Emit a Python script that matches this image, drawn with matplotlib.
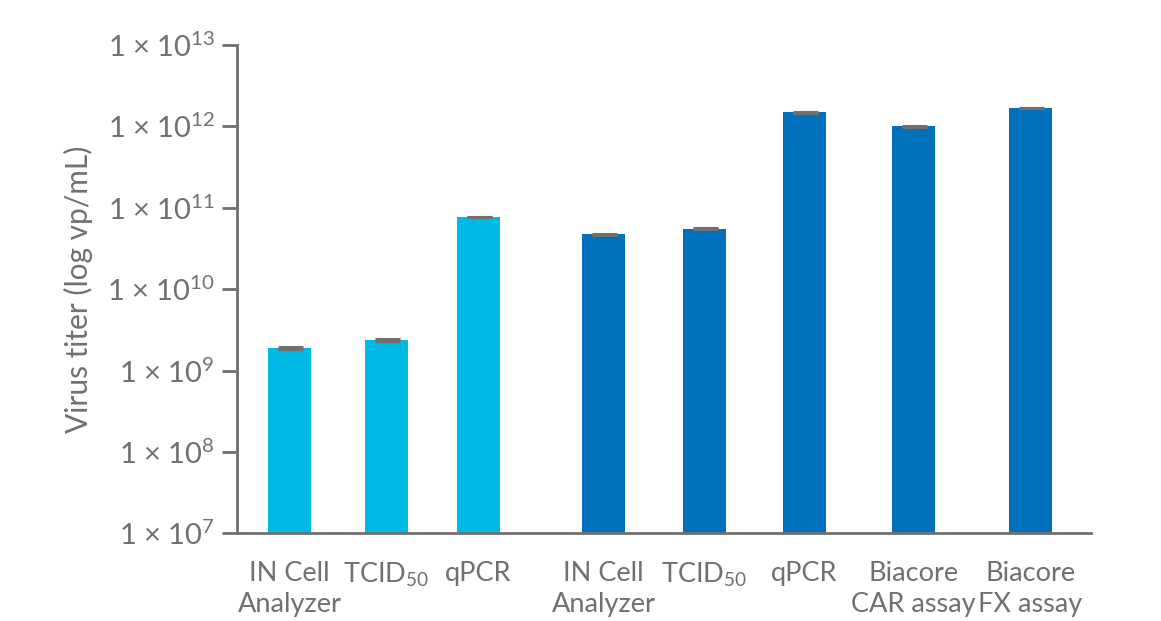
import numpy as np
import matplotlib.pyplot as plt
from matplotlib.ticker import FixedLocator, FixedFormatter, NullLocator

plt.rcParams['font.family'] = ['Lato', 'DejaVu Sans']
plt.rcParams['mathtext.default'] = 'regular'

# data
labels = ['IN Cell\nAnalyzer', 'TCID$_{50}$', 'qPCR',
          'IN Cell\nAnalyzer', 'TCID$_{50}$', 'qPCR',
          'Biacore\nCAR assay', 'Biacore\nFX assay']
titers = [1.89e9, 2.37e9, 7.7e10, 4.75e10, 5.5e10, 1.5e12, 1.01e12, 1.68e12]
errors = [0.03e9, 0.04e9, 0.1e10, 0.06e10, 0.07e10, 0.02e12, 0.015e12, 0.02e12]
groups = ['light', 'light', 'light', 'dark', 'dark', 'dark', 'dark', 'dark']
yticks = [1e7, 1e8, 1e9, 1e10, 1e11, 1e12, 1e13]
ytick_labels = [r'1 × 10$^{%d}$' % int(np.log10(v)) for v in yticks]

# layout
xpos = [0.525, 1.495, 2.415, 3.665, 4.675, 5.675, 6.765, 7.935]
colors = {'light': '#00BAE6', 'dark': '#0071BA'}
grey = '#707070'

fig = plt.figure(figsize=(11.61, 6.21), dpi=100)
ax = fig.add_axes([237 / 1161, 1 - 533.3 / 621, (1091 - 237) / 1161, (533.3 - 45) / 621])

ax.bar(xpos, titers, width=0.43, color=[colors[g] for g in groups], zorder=2)
ax.errorbar(xpos, titers, yerr=errors, fmt='none', ecolor=grey, elinewidth=1.5,
            capsize=9, capthick=2.2, zorder=3)

ax.set_yscale('log')
ax.set_ylim(1e7, 1e13)
ax.set_xlim(0, 8.54)
ax.yaxis.set_major_locator(FixedLocator(yticks))
ax.yaxis.set_major_formatter(FixedFormatter(ytick_labels))
ax.yaxis.set_minor_locator(NullLocator())

ax.set_xticks(xpos)
ax.set_xticklabels(labels, fontsize=19.5, color=grey, linespacing=1.3)
ax.tick_params(axis='x', length=0, pad=20)
ax.tick_params(axis='y', length=11, width=2, color=grey, labelsize=21,
               labelcolor=grey, pad=5)

ax.set_ylabel('Virus titer (log vp/mL)', fontsize=21.5, color=grey, labelpad=10)

for side in ['top', 'right']:
    ax.spines[side].set_visible(False)
for side in ['left', 'bottom']:
    ax.spines[side].set_color(grey)
    ax.spines[side].set_linewidth(2)

plt.savefig('out.png', dpi=100)
